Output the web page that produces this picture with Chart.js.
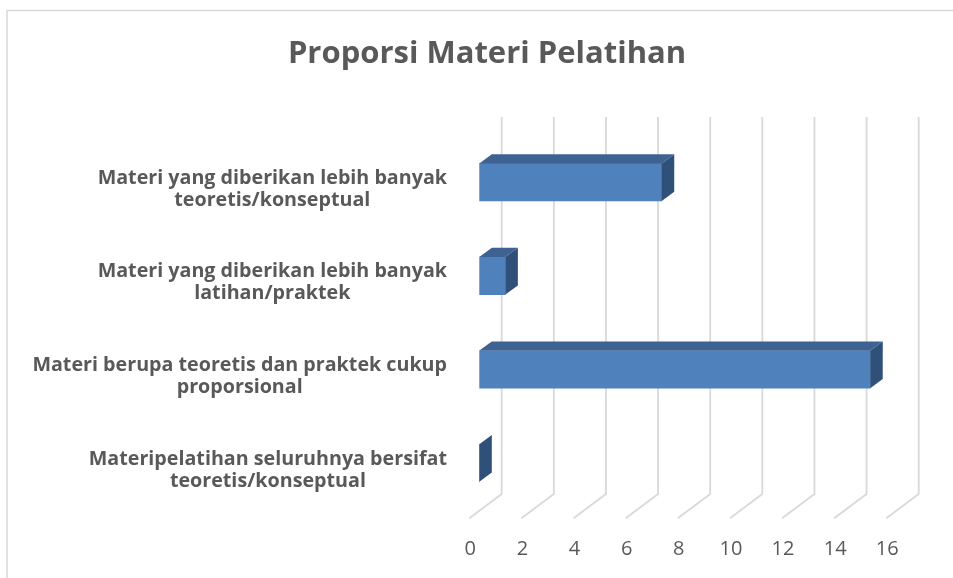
<!DOCTYPE html>
<html>
<head>
<meta charset="utf-8">
<script src="https://cdn.jsdelivr.net/npm/chart.js@4/dist/chart.umd.min.js"></script>
<style>
  body { margin: 0; background: #fff; }
  canvas { display: block; }
</style>
</head>
<body>
<canvas id="chart" width="953" height="578"></canvas>
<script>
// Data
const chartTitle = "Proporsi Materi Pelatihan";
const categories = [
  ["Materi yang diberikan lebih banyak", "teoretis/konseptual"],
  ["Materi yang diberikan lebih banyak", "latihan/praktek"],
  ["Materi berupa teoretis dan praktek cukup", "proporsional"],
  ["Materipelatihan seluruhnya bersifat", "teoretis/konseptual"]
];
const values = [7, 1, 15, 0];
const axisMin = 0;
const axisMax = 16;
const axisStep = 2;

const TEXT = "#595959";
const GRID = "#d9d9d9";
const FONT = "'Open Sans'";

// 3D depth of the bars and of the back wall
const BAR_DX = 12.5, BAR_DY = 9.2;
const WALL_DX = 22.4;

const threeD = {
  id: "threeD",
  beforeDraw(chart) {
    const ctx = chart.ctx;
    ctx.save();
    // outer frame (only left and top visible)
    ctx.strokeStyle = GRID;
    ctx.lineWidth = 1.5;
    ctx.beginPath();
    ctx.moveTo(7, 578);
    ctx.lineTo(7, 10.5);
    ctx.lineTo(953, 10.5);
    ctx.stroke();
    // title
    ctx.fillStyle = TEXT;
    ctx.font = "bold 31px " + FONT;
    ctx.textAlign = "center";
    ctx.textBaseline = "middle";
    ctx.fillText(chartTitle, 487, 54);
    ctx.restore();
  },
  beforeDatasetsDraw(chart) {
    const ctx = chart.ctx;
    const x = chart.scales.x;
    const area = chart.chartArea;
    ctx.save();
    ctx.strokeStyle = GRID;
    ctx.lineWidth = 1.8;
    for (let v = axisMin; v <= axisMax; v += axisStep) {
      const px = x.getPixelForValue(v);
      ctx.beginPath();
      ctx.moveTo(px + WALL_DX, area.top - 18.4);
      ctx.lineTo(px + WALL_DX, area.bottom - 15.8);
      ctx.lineTo(px - 10, area.bottom + 8.5);
      ctx.stroke();
    }
    ctx.restore();
  },
  afterDatasetsDraw(chart) {
    const ctx = chart.ctx;
    const meta = chart.getDatasetMeta(0);
    ctx.save();
    meta.data.forEach((bar) => {
      const top = bar.y - bar.height / 2;
      const bottom = bar.y + bar.height / 2;
      // top face
      ctx.fillStyle = "#3e6392";
      ctx.beginPath();
      ctx.moveTo(bar.base, top);
      ctx.lineTo(bar.base + BAR_DX, top - BAR_DY);
      ctx.lineTo(bar.x + BAR_DX, top - BAR_DY);
      ctx.lineTo(bar.x, top);
      ctx.closePath();
      ctx.fill();
      // side face
      ctx.fillStyle = "#2f5079";
      ctx.beginPath();
      ctx.moveTo(bar.x, top);
      ctx.lineTo(bar.x + BAR_DX, top - BAR_DY);
      ctx.lineTo(bar.x + BAR_DX, bottom - BAR_DY);
      ctx.lineTo(bar.x, bottom);
      ctx.closePath();
      ctx.fill();
    });

    // category labels: block right aligned, lines centred in the block
    const y = chart.scales.y;
    ctx.fillStyle = TEXT;
    ctx.font = "bold 19.7px " + FONT;
    ctx.textAlign = "center";
    ctx.textBaseline = "middle";
    const lineH = 22;
    categories.forEach((lines, i) => {
      const widest = Math.max(...lines.map((l) => ctx.measureText(l).width));
      const cx = 447 - widest / 2;
      const cy = y.getPixelForValue(i) + 7;
      lines.forEach((l, j) => {
        ctx.fillText(l, cx, cy + (j - (lines.length - 1) / 2) * lineH);
      });
    });
    ctx.restore();
  }
};

new Chart(document.getElementById("chart"), {
  type: "bar",
  data: {
    labels: categories,
    datasets: [{
      data: values,
      backgroundColor: "#4f81bd",
      borderWidth: 0,
      barThickness: 37.6
    }]
  },
  options: {
    indexAxis: "y",
    responsive: false,
    animation: false,
    devicePixelRatio: 1,
    layout: { padding: { top: 135.4, right: 56.7, bottom: 0, left: 0 } },
    scales: {
      x: {
        min: axisMin,
        max: axisMax,
        ticks: {
          stepSize: axisStep,
          color: TEXT,
          font: { family: "Open Sans", size: 20 },
          labelOffset: -9,
          padding: 27,
          maxRotation: 0
        },
        grid: { display: false, drawTicks: false },
        border: { display: false },
        afterFit: (s) => { s.height = 68.2; }
      },
      y: {
        ticks: { display: false },
        grid: { display: false, drawTicks: false },
        border: { display: false },
        afterFit: (s) => { s.width = 479.3; }
      }
    },
    plugins: {
      legend: { display: false },
      tooltip: { enabled: false }
    }
  },
  plugins: [threeD]
});
</script>
</body>
</html>
